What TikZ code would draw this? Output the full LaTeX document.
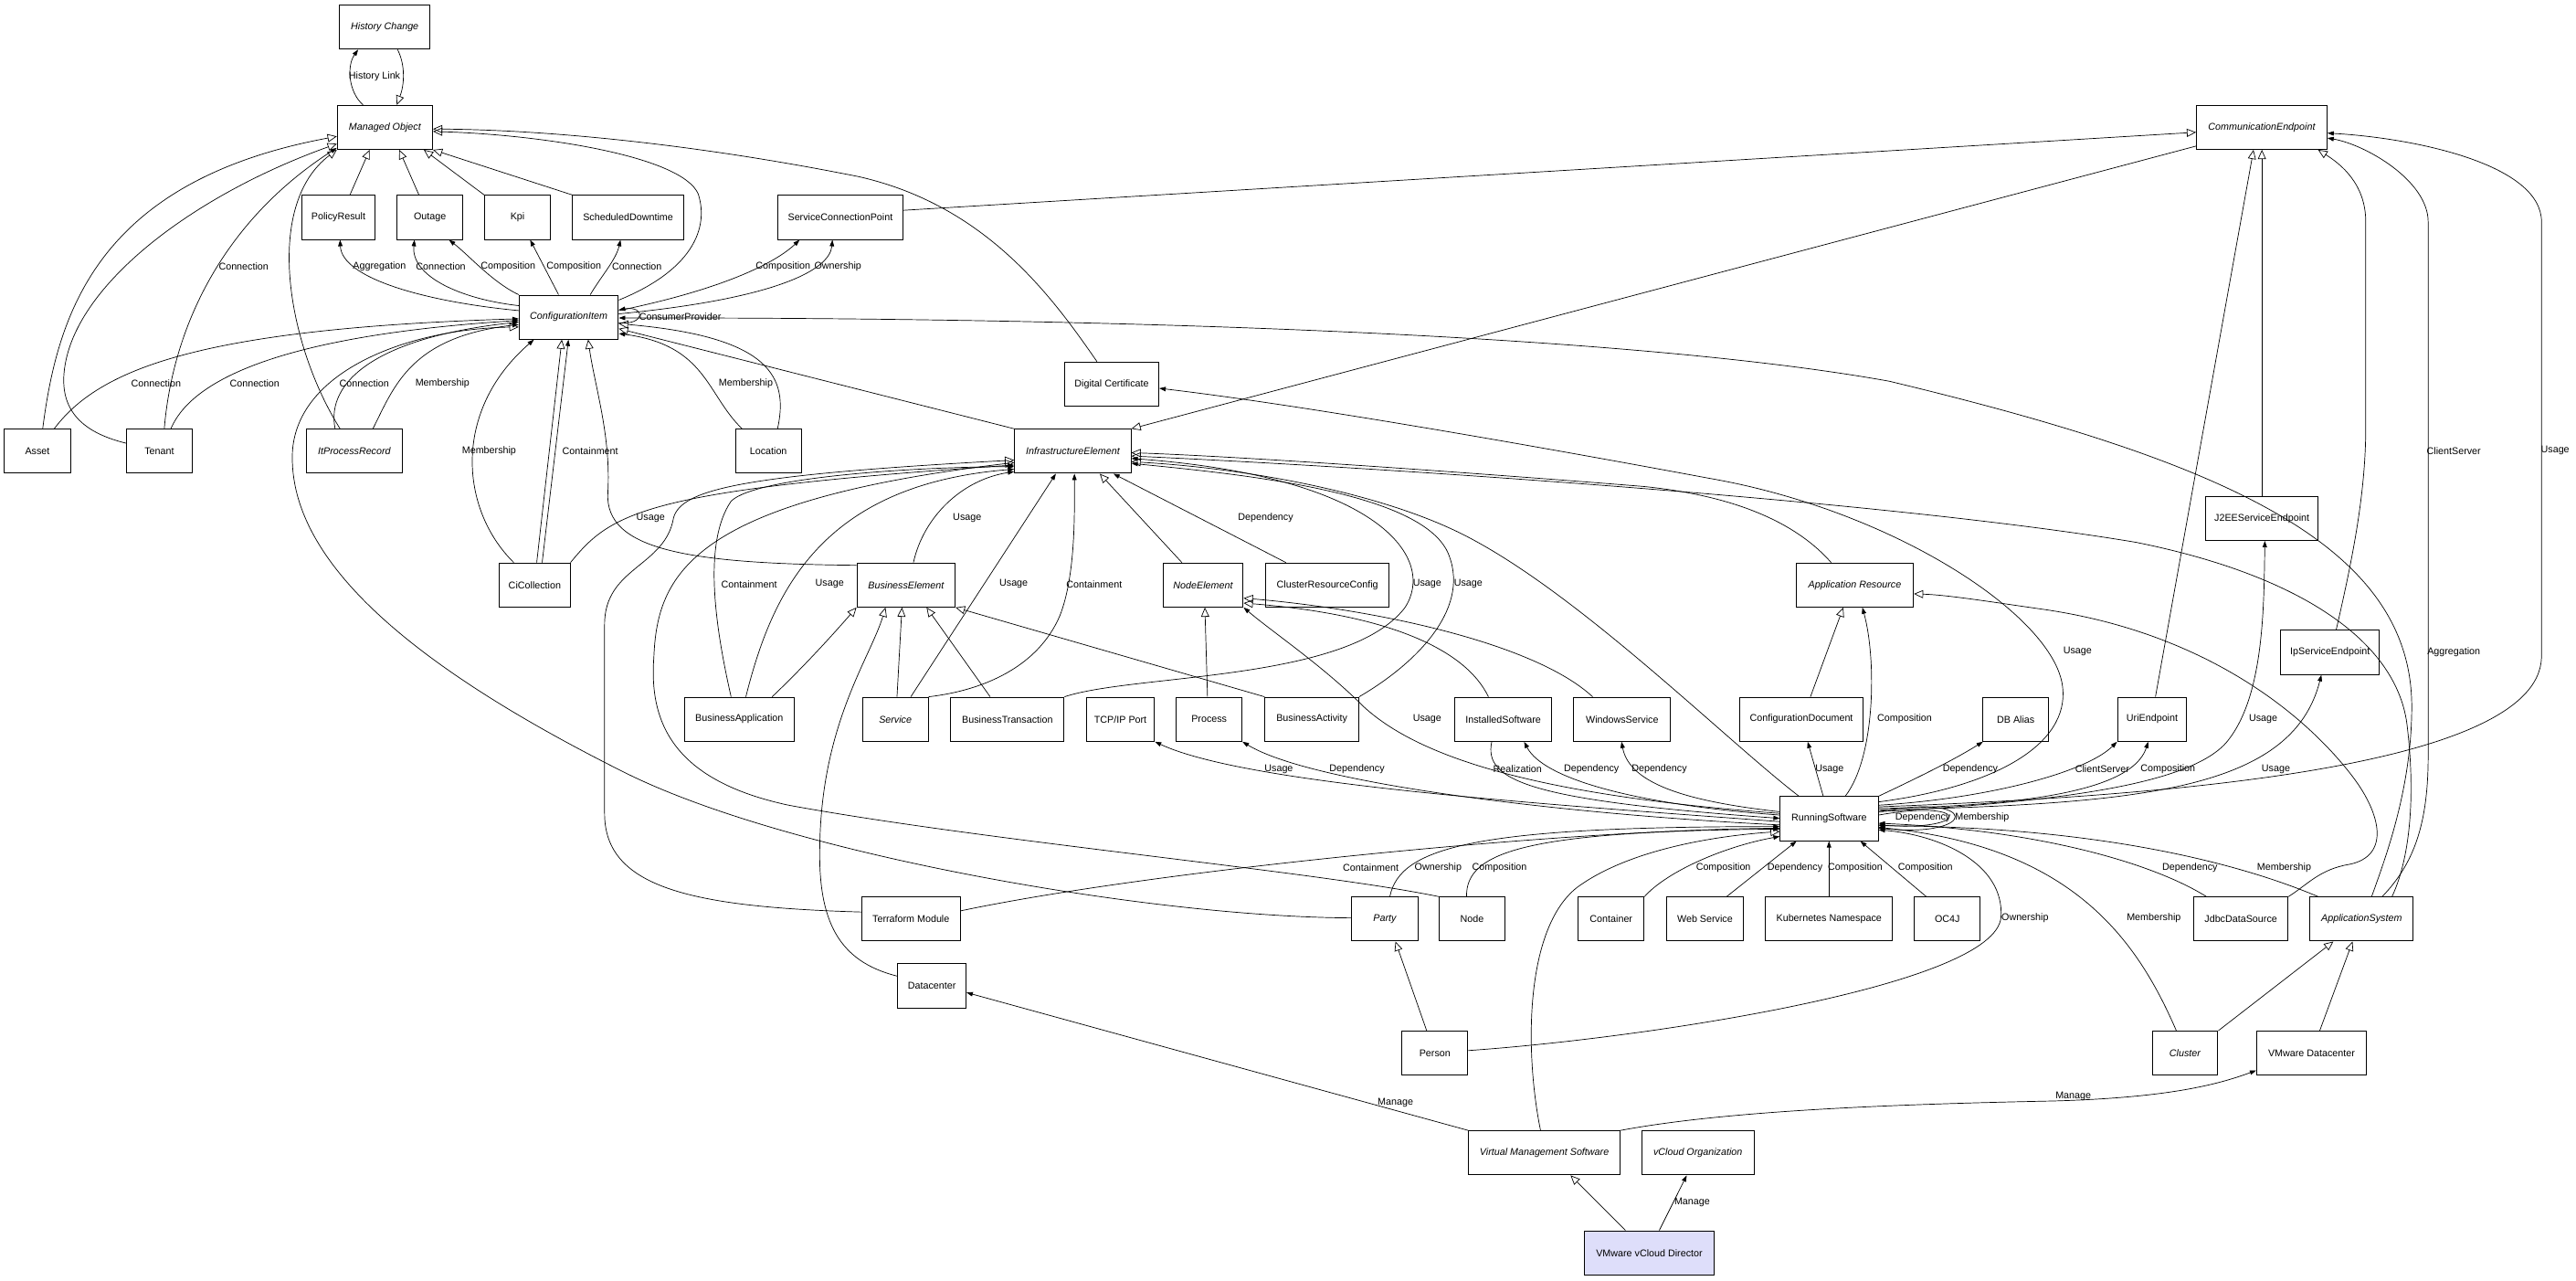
\documentclass[tikz,border=0pt]{standalone}
\usepackage{fontspec}
\setmainfont{Liberation Sans}
\usetikzlibrary{arrows.meta}
\newcommand{\myfont}{\fontsize{8.5}{10}\selectfont}
\definecolor{lav}{RGB}{222,222,250}
\tikzset{
  box/.style={draw, line width=0.8pt, minimum height=1.34cm, inner sep=1pt, font=\myfont},
  abs/.style={box, font=\myfont\itshape},
  gen/.style={line width=0.55pt, -{Triangle[open, length=8pt, width=7pt, line width=0.55pt]}},
  asc/.style={line width=0.55pt, -{Triangle[length=5.5pt, width=3.8pt]}},
  lbl/.style={font=\myfont, inner sep=0.5pt},
}
\begin{document}
\begin{tikzpicture}[x=0.05cm, y=-0.05cm]
\useasboundingbox (0,0) rectangle (1568,779);
% ---------------- nodes
\node[abs, minimum width=2.75cm] (hc) at (234.2,16.5) {History Change};
\node[abs, minimum width=2.9cm] (mo) at (234.3,77.5) {Managed Object};
\node[box, minimum width=2.24cm] (pr) at (206,132.3) {PolicyResult};
\node[box, minimum width=2.0cm] (out) at (261.7,132.3) {Outage};
\node[box, minimum width=2.0cm] (kpi) at (315,132.3) {Kpi};
\node[box, minimum width=3.37cm] (sd) at (382.3,132.3) {ScheduledDowntime};
\node[box, minimum width=3.79cm] (scp) at (511.5,132.3) {ServiceConnectionPoint};
\node[abs, minimum width=3.97cm] (ce) at (1376.7,77.5) {CommunicationEndpoint};
\node[abs, minimum width=3.02cm] (ci) at (346.2,193) {ConfigurationItem};
\node[box, minimum width=2.87cm] (dc) at (676.7,233.7) {Digital Certificate};
\node[box, minimum width=2.02cm] (asset) at (22.8,274.6) {Asset};
\node[box, minimum width=2.0cm] (tenant) at (97,274.6) {Tenant};
\node[abs, minimum width=2.94cm] (ipr) at (215.7,274.6) {ItProcessRecord};
\node[box, minimum width=2.0cm] (loc) at (467.7,274.6) {Location};
\node[abs, minimum width=3.54cm] (ie) at (653,274.6) {InfrastructureElement};
\node[box, minimum width=2.15cm] (cic) at (325.5,356) {CiCollection};
\node[abs, minimum width=2.99cm] (be) at (551.5,356) {BusinessElement};
\node[abs, minimum width=2.44cm] (ne) at (732.3,356) {NodeElement};
\node[box, minimum width=3.74cm] (crc) at (808,356) {ClusterResourceConfig};
\node[abs, minimum width=3.57cm] (ar) at (1129,356) {Application Resource};
\node[box, minimum width=3.42cm] (j2ee) at (1376.8,315.5) {J2EEServiceEndpoint};
\node[box, minimum width=3.0cm] (ipse) at (1418.3,397) {IpServiceEndpoint};
\node[box, minimum width=3.34cm] (ba) at (450,437.7) {BusinessApplication};
\node[abs, minimum width=2.0cm] (svc) at (545,437.7) {Service};
\node[box, minimum width=3.45cm] (bt) at (613.2,437.7) {BusinessTransaction};
\node[box, minimum width=2.07cm] (tcp) at (682,437.7) {TCP/IP Port};
\node[box, minimum width=2.0cm] (proc) at (736,437.7) {Process};
\node[box, minimum width=2.85cm] (bact) at (798.5,437.7) {BusinessActivity};
\node[box, minimum width=2.95cm] (is) at (915,437.7) {InstalledSoftware};
\node[box, minimum width=2.94cm] (ws) at (987.4,437.7) {WindowsService};
\node[box, minimum width=3.75cm] (cd) at (1096.5,437.7) {ConfigurationDocument};
\node[box, minimum width=2.0cm] (dba) at (1227,437.7) {DB Alias};
\node[box, minimum width=2.1cm] (uri) at (1310,437.7) {UriEndpoint};
\node[box, minimum width=2.98cm] (rs) at (1113.4,498.2) {RunningSoftware};
\node[box, minimum width=2.99cm] (tf) at (554.5,559.3) {Terraform Module};
\node[abs, minimum width=2.02cm] (party) at (842.9,559.3) {Party};
\node[box, minimum width=2.0cm] (nnode) at (896,559.3) {Node};
\node[box, minimum width=2.0cm] (cont) at (980.7,559.3) {Container};
\node[box, minimum width=2.32cm] (wsv) at (1037.8,559.3) {Web Service};
\node[box, minimum width=3.87cm] (k8s) at (1113.3,559.3) {Kubernetes Namespace};
\node[box, minimum width=2.0cm] (oc4j) at (1185.3,559.3) {OC4J};
\node[box, minimum width=2.87cm] (jds) at (1364,559.3) {JdbcDataSource};
\node[abs, minimum width=3.15cm] (as) at (1437.5,559.3) {ApplicationSystem};
\node[box, minimum width=2.08cm] (dcen) at (567.2,600) {Datacenter};
\node[box, minimum width=2.0cm] (person) at (873.4,640.9) {Person};
\node[abs, minimum width=2.0cm] (cluster) at (1330,640.9) {Cluster};
\node[box, minimum width=3.34cm] (vmdc) at (1407,640.9) {VMware Datacenter};
\node[abs, minimum width=4.6cm] (vms) at (940,701.6) {Virtual Management Software};
\node[abs, minimum width=3.41cm] (vco) at (1033.5,701.6) {vCloud Organization};
\node[box, fill=lav, minimum width=3.95cm] (vcd) at (1003.9,762.4) {VMware vCloud Director};
% ---------------- top
\draw[asc] (mo.north -| 221,0) .. controls (212,56) and (211,40) .. (hc.south -| 218,0) node[lbl] at (228,46.3) {History Link};
\draw[gen] (hc.south -| 242,0) .. controls (247,40) and (246,52) .. (mo.north -| 241.5,0);
\draw[gen] (pr.north -| 213,0) -- (mo.south -| 225,0);
\draw[gen] (out.north -| 255,0) -- (mo.south -| 243,0);
\draw[gen] (kpi.north west) -- (mo.south -| 258,0);
\draw[gen] (sd.north west) -- (mo.south east);
\draw[asc] (ci.west |- 0,189) .. controls (262,184) and (208,170) .. (pr.south -| 207,0) node[lbl] at (231,162.2) {Aggregation};
\draw[asc] (ci.west |- 0,186) .. controls (280,182) and (250,168) .. (out.south -| 252.3,0) node[lbl] at (268.3,162.2) {Connection};
\draw[asc] (ci.north west) .. controls (300,172) and (285,155) .. (out.south -| 273.3,0) node[lbl] at (309.3,162.2) {Composition};
\draw[asc] (ci.north -| 340,0) -- (kpi.south -| 322.7,0) node[lbl] at (349.3,162.2) {Composition};
\draw[asc] (ci.north -| 359.3,0) .. controls (366,168) and (375,158) .. (sd.south -| 377.7,0) node[lbl] at (387.7,162.2) {Connection};
\draw[gen] (ci.east |- 0,182.6) .. controls (420,165) and (432,140) .. (425,118) .. controls (415,95) and (330,82) .. (mo.east |- 0,80);
\draw[gen] (dc.north -| 667.7,0) .. controls (640,180) and (600,125) .. (522.7,107.5) .. controls (420,87) and (330,79) .. (mo.east |- 0,78.5);
\draw[gen] (scp.east |- 0,128) -- (ce.west |- 0,80.5);
\draw[asc] (ci.east |- 0,189) .. controls (440,176) and (472,160) .. (scp.south -| 486.7,0) node[lbl] at (476.7,162.2) {Composition};
\draw[asc] (ci.east |- 0,191) .. controls (470,182) and (505,165) .. (scp.south -| 506.7,0) node[lbl] at (510,162.2) {Ownership};
\draw[asc] (ci.east |- 0,196.5) .. controls (393,198) and (393,186) .. (ci.east |- 0,188.5) node[lbl] at (414,192.8) {ConsumerProvider};
\draw[asc] (as.north -| 1443.6,0) .. controls (1452,522) and (1468,480) .. (1468,430) .. controls (1468,330) and (1350,280) .. (1150,232) .. controls (1000,205) and (700,193) .. (ci.east |- 0,193.5) node[lbl] at (1493.6,396.6) {Aggregation};
% ---------------- left
\draw[asc] (asset.north -| 33,0) .. controls (60,225) and (120,200) .. (ci.west |- 0,194) node[lbl] at (95,233.2) {Connection};
\draw[asc] (tenant.north -| 104,0) .. controls (115,235) and (160,205) .. (ci.west |- 0,195) node[lbl] at (155,233.2) {Connection};
\draw[asc] (tenant.north -| 100,0) .. controls (105,200) and (135,135) .. (mo.west |- 0,90) node[lbl] at (148.3,162.2) {Connection};
\draw[gen] (tenant.west |- 0,269.7) .. controls (45,262) and (35,245) .. (40,220) .. controls (50,170) and (120,118) .. (mo.west |- 0,87.5);
\draw[gen] (asset.north -| 26,0) .. controls (35,190) and (60,110) .. (mo.west |- 0,83);
\draw[gen] (ipr.north -| 207,0) .. controls (175,210) and (160,125) .. (mo.south west);
\draw[asc] (ipr.north -| 204,0) .. controls (198,232) and (230,205) .. (ci.west |- 0,196) node[lbl] at (221.7,233.2) {Connection};
\draw[asc] (ipr.north -| 227,0) .. controls (240,235) and (250,205) .. (ci.west |- 0,197.5) node[lbl] at (269.3,233.2) {Membership};
\draw[gen] (party.west |- 0,558.6) .. controls (700,558) and (480,520) .. (380,470) .. controls (260,410) and (175,345) .. (178,275) .. controls (181,225) and (250,200) .. (ci.west |- 0,199);
\draw[asc] (loc.north -| 451.7,0) .. controls (430,240) and (430,210) .. (ci.east |- 0,203) node[lbl] at (454,233.2) {Membership};
\draw[gen] (loc.north -| 473.3,0) .. controls (480,230) and (470,205) .. (ci.east |- 0,197);
\draw[gen] (ie.north west) -- (ci.east |- 0,200);
\draw[asc] (cic.north -| 312.7,0) .. controls (280,310) and (275,250) .. (ci.south -| 325,0) node[lbl] at (297.7,274.3) {Membership};
\draw[gen] (cic.north -| 326.7,0) -- (ci.south -| 342,0);
\draw[asc] (cic.north -| 330,0) -- (ci.south -| 346,0) node[lbl] at (359.3,274.3) {Containment};
\draw[gen] (be.west |- 0,344) .. controls (420,343) and (368,335) .. (370,300) .. controls (372,265) and (362,235) .. (ci.south -| 358,0);
\draw[asc] (cic.north east) .. controls (372,312) and (392,298) .. (ie.west |- 0,283) node[lbl] at (396,315.1) {Usage};
\draw[gen] (tf.west |- 0,555) .. controls (420,552) and (368,540) .. (368,495) -- (368,380) .. controls (368,345) and (405,345) .. (410,315) .. controls (415,298) and (450,289) .. (ie.west |- 0,280);
\draw[gen] (nnode.north west) .. controls (800,530) and (600,512) .. (480,490) .. controls (410,475) and (395,440) .. (398,400) .. controls (400,350) and (420,305) .. (ie.west |- 0,281.5);
\draw[asc] (ba.north -| 445,0) .. controls (435,380) and (428,330) .. (445,305) .. controls (460,290) and (560,284) .. (ie.west |- 0,284) node[lbl] at (456,355.5) {Containment};
\draw[asc] (ba.north -| 454,0) .. controls (470,360) and (500,295) .. (ie.west |- 0,285.5) node[lbl] at (505,355.5) {Usage};
\draw[gen] (ba.north -| 470,0) .. controls (490,405) and (508,385) .. (be.south west);
\draw[asc] (be.north -| 556,0) .. controls (562,315) and (585,292) .. (ie.west |- 0,287) node[lbl] at (588.7,315.1) {Usage};
\draw[gen] (dcen.west |- 0,594) .. controls (510,585) and (498,560) .. (499,515) .. controls (500,440) and (530,400) .. (be.south -| 539,0);
\draw[gen] (svc.north -| 546,0) -- (be.south -| 549,0);
\draw[gen] (bt.north -| 602.7,0) -- (be.south -| 564,0);
\draw[gen] (bact.north west) -- (be.south east);
\draw[asc] (svc.north -| 554.4,0) -- (ie.south -| 642.7,0) node[lbl] at (617,355.5) {Usage};
\draw[asc] (svc.north east) .. controls (600,420) and (632,405) .. (645,375) .. controls (655,350) and (654,310) .. (ie.south -| 654,0) node[lbl] at (666,355.5) {Containment};
\draw[asc] (bt.north east) .. controls (690,410) and (820,415) .. (855,370) .. controls (875,340) and (840,290) .. (ie.east |- 0,279) node[lbl] at (868.7,355.5) {Usage};
\draw[asc] (bact.north east) .. controls (860,405) and (895,372) .. (882,338) .. controls (868,300) and (760,289) .. (ie.east |- 0,282) node[lbl] at (893.7,355.5) {Usage};
\draw[gen] (ne.north -| 719.4,0) -- (ie.south -| 669.4,0);
\draw[asc] (crc.north -| 782.7,0) -- (ie.south -| 677.7,0) node[lbl] at (770.4,315.1) {Dependency};
\draw[gen] (ce.west |- 0,88.9) -- (ie.north east);
\draw[gen] (ar.north -| 1114.6,0) .. controls (1095,320) and (1060,302) .. (1000,296) .. controls (900,288) and (760,278) .. (ie.east |- 0,275.5);
\draw[gen] (as.north -| 1456,0) .. controls (1468,520) and (1470,480) .. (1465,440) .. controls (1458,390) and (1400,350) .. (1300,330) .. controls (1150,305) and (850,285) .. (ie.east |- 0,277.5);
% ---------------- right / endpoints
\draw[asc] (as.north -| 1450,0) .. controls (1470,525) and (1478,500) .. (1478,460) -- (1478,135) .. controls (1478,110) and (1440,88) .. (ce.east |- 0,84) node[lbl] at (1493.6,274.3) {ClientServer};
\draw[asc] (rs.east |- 0,491) .. controls (1300,485) and (1545,470) .. (1547,400) -- (1547,135) .. controls (1547,100) and (1470,84) .. (ce.east |- 0,81) node[lbl] at (1555.3,274.3) {Usage};
\draw[gen] (uri.north -| 1312,0) -- (ce.south -| 1371.7,0);
\draw[gen] (j2ee.north) -- (ce.south -| 1376.8,0);
\draw[gen] (ipse.north -| 1422,0) .. controls (1432,340) and (1440,300) .. (1440,260) -- (1440,135) .. controls (1440,112) and (1425,100) .. (ce.south -| 1411,0);
\draw[asc] (rs.east |- 0,494) .. controls (1250,488) and (1332,478) .. (1355,452) .. controls (1378,425) and (1378,370) .. (j2ee.south -| 1378.6,0) node[lbl] at (1377.6,437.4) {Usage};
\draw[asc] (rs.east |- 0,493) .. controls (1300,489) and (1395,482) .. (ipse.south -| 1413,0) node[lbl] at (1385.3,468) {Usage};
\draw[asc] (rs.east |- 0,490) .. controls (1210,486) and (1270,470) .. (uri.south -| 1288.6,0) node[lbl] at (1279.6,468) {ClientServer};
\draw[asc] (rs.east |- 0,492) .. controls (1260,490) and (1300,475) .. (uri.south -| 1307.6,0) node[lbl] at (1319.6,468) {Composition};
\draw[asc] (rs.north east) .. controls (1170,472) and (1190,462) .. (dba.south -| 1207,0) node[lbl] at (1199.3,468) {Dependency};
\draw[asc] (rs.north -| 1123.2,0) .. controls (1142,460) and (1142,400) .. (ar.south -| 1133.6,0) node[lbl] at (1159.3,437.4) {Composition};
\draw[asc] (rs.north -| 1109.8,0) -- (cd.south -| 1100.3,0) node[lbl] at (1113.6,468) {Usage};
\draw[asc] (rs.east |- 0,488) .. controls (1220,478) and (1262,450) .. (1255,415) .. controls (1246,372) and (1150,310) .. (1040,291) .. controls (900,265) and (780,245) .. (dc.east |- 0,236.3) node[lbl] at (1264.6,396.6) {Usage};
\draw[gen] (rs.north -| 1095,0) .. controls (1050,450) and (960,360) .. (890,325) .. controls (840,300) and (760,285) .. (ie.east |- 0,281);
\draw[asc] (rs.west |- 0,495) .. controls (950,485) and (868,465) .. (830,430) .. controls (805,405) and (775,385) .. (ne.south east) node[lbl] at (868.7,437.4) {Usage};
\draw[asc] (rs.west |- 0,500) .. controls (950,490) and (760,478) .. (tcp.south east) node[lbl] at (778.4,468) {Usage};
\draw[asc] (rs.west |- 0,502) .. controls (960,496) and (800,478) .. (proc.south east) node[lbl] at (826,468) {Dependency};
\draw[asc] (is.south -| 908,0) .. controls (903,475) and (930,487) .. (rs.west |- 0,498) node[lbl] at (923.7,468) {Realization};
\draw[asc] (rs.west |- 0,496) .. controls (1000,490) and (940,475) .. (is.south -| 927.7,0) node[lbl] at (968.7,468) {Dependency};
\draw[asc] (rs.west |- 0,494) .. controls (1030,488) and (992,478) .. (ws.south -| 987,0) node[lbl] at (1010,468) {Dependency};
\draw[gen] (cd.north -| 1102,0) -- (ar.south -| 1122,0);
\draw[gen] (proc.north -| 735,0) -- (ne.south -| 733.4,0);
\draw[gen] (is.north -| 906,0) .. controls (892,395) and (845,374) .. (ne.east |- 0,367);
\draw[gen] (ws.north -| 969.4,0) .. controls (935,392) and (840,371) .. (ne.east |- 0,364);
\draw[gen] (jds.north east) .. controls (1405,538) and (1412,529) .. (1430,526) .. controls (1455,521) and (1450,495) .. (1430,470) .. controls (1400,432) and (1340,385) .. (1245,371) .. controls (1210,366) and (1185,362) .. (ar.east |- 0,361.4);
% ---------------- around RunningSoftware
\draw[asc] (rs.east |- 0,496) .. controls (1200,486) and (1200,506) .. (rs.east |- 0,502) node[lbl] at (1170.5,497.6) {Dependency};
\draw[asc] (rs.east |- 0,494) .. controls (1205,482) and (1205,510) .. (rs.east |- 0,504) node[lbl] at (1206.5,497.6) {Membership};
\draw[asc] (jds.north -| 1343,0) .. controls (1310,525) and (1240,505) .. (rs.east |- 0,501) node[lbl] at (1333,528.3) {Dependency};
\draw[asc] (as.north -| 1411,0) .. controls (1350,520) and (1260,503) .. (rs.east |- 0,502.5) node[lbl] at (1390.3,528.3) {Membership};
\draw[asc] (cluster.north -| 1324.7,0) .. controls (1300,570) and (1260,515) .. (rs.east |- 0,503.5) node[lbl] at (1311,558.8) {Membership};
\draw[asc] (person.east |- 0,639.3) .. controls (1000,632) and (1215,600) .. (1218,558) .. controls (1220,525) and (1180,508) .. (rs.east |- 0,505) node[lbl] at (1232.6,558.8) {Ownership};
\draw[gen] (person.north -| 868.4,0) -- (party.south -| 849.4,0);
\draw[asc] (tf.east |- 0,554.3) .. controls (700,530) and (950,505) .. (rs.west |- 0,504) node[lbl] at (834.4,528.3) {Containment};
\draw[asc] (party.north -| 846,0) .. controls (852,515) and (900,503) .. (rs.west |- 0,503) node[lbl] at (875.4,528.3) {Ownership};
\draw[asc] (nnode.north -| 892.7,0) .. controls (892,518) and (930,506) .. (rs.west |- 0,504.5) node[lbl] at (912.7,528.3) {Composition};
\draw[gen] (vms.north -| 937.7,0) .. controls (928,640) and (928,565) .. (960,540) .. controls (990,518) and (1040,509) .. (rs.west |- 0,506);
\draw[asc] (cont.north east) .. controls (1015,530) and (1050,515) .. (rs.west |- 0,509) node[lbl] at (1049,528.2) {Composition};
\draw[asc] (wsv.north -| 1051,0) -- (rs.south -| 1093.5,0) node[lbl] at (1092.6,528.2) {Dependency};
\draw[asc] (k8s.north) -- (rs.south -| 1113.3,0) node[lbl] at (1129.3,528.2) {Composition};
\draw[asc] (oc4j.north -| 1172.5,0) -- (rs.south -| 1132.4,0) node[lbl] at (1172,528.2) {Composition};
% ---------------- bottom
\draw[asc] (vms.north west) -- (dcen.east |- 0,604) node[lbl] at (849.4,670.9) {Manage};
\draw[asc] (vms.north east) .. controls (1050,676) and (1150,672) .. (1250,670) .. controls (1320,668) and (1350,660) .. (vmdc.west |- 0,651.4) node[lbl] at (1262,667) {Manage};
\draw[gen] (vcd.north -| 989.4,0) -- (vms.south -| 956,0);
\draw[asc] (vcd.north -| 1010,0) -- (vco.south -| 1026.7,0) node[lbl] at (1030,731.5) {Manage};
\draw[gen] (cluster.north east) -- (as.south -| 1420.3,0);
\draw[gen] (vmdc.north -| 1412,0) -- (as.south -| 1432,0);
\end{tikzpicture}
\end{document}
